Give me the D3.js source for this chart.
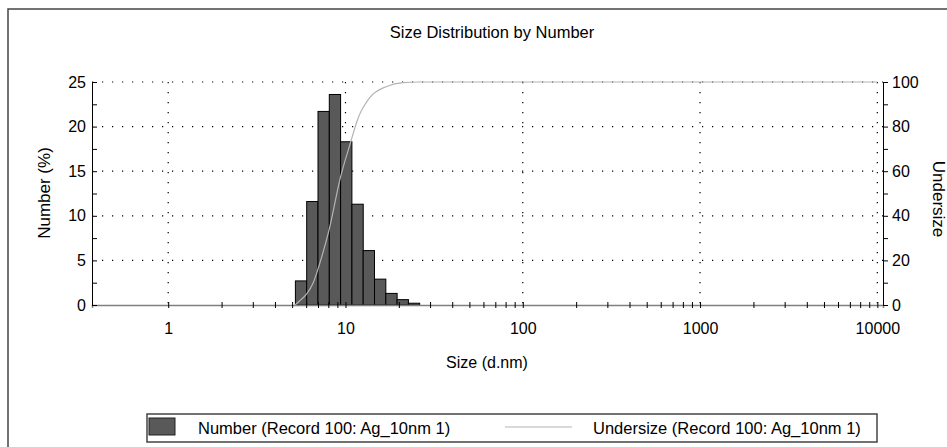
<!DOCTYPE html>
<html>
<head>
<meta charset="utf-8">
<script src="https://cdn.jsdelivr.net/npm/d3@7"></script>
<style>
  body { margin: 0; background: #fff; }
  svg { font-family: "Liberation Sans", Arial, sans-serif; }
</style>
</head>
<body>
<svg id="chart" width="947" height="447"></svg>
<script>
// Bin centres (d.nm) and number distribution (%)
const sizes = [5.615, 6.503, 7.531, 8.721, 10.10, 11.70, 13.54, 15.69, 18.17, 21.04, 24.36];
const numberPct = [2.7, 11.6, 21.7, 23.6, 18.3, 11.3, 6.1, 2.9, 1.3, 0.6, 0.2];

// Undersize (cumulative) curve
const undersizeSizes = [5.19, 5.54, 6.04, 6.58, 7.18, 8.10, 9.35, 10.6, 11.8, 13.7, 17.1, 21.1, 26.3, 40, 10000];
const undersizeVals = [0, 2, 5, 10, 19, 34, 57, 72, 84, 93, 98, 99.7, 100, 100, 100];

const xLabels = [1, 10, 100, 1000, 10000];
const leftTicks = [0, 5, 10, 15, 20, 25];
const rightTicks = [0, 20, 40, 60, 80, 100];

const svg = d3.select('#chart');
const binRatio = 1.1582;
const half = Math.sqrt(binRatio);

// scales
const x = d3.scaleLog().domain([0.4 / half, 10000 * half]).range([92, 883]);
const yL = d3.scaleLinear().domain([0, 25]).range([305, 82]);
const yR = d3.scaleLinear().domain([0, 100]).range([305, 82]);

// outer frame
svg.append('rect')
  .attr('x', 8).attr('y', 9).attr('width', 960).attr('height', 460)
  .attr('fill', 'none').attr('stroke', '#444').attr('stroke-width', 1.5);

// title
svg.append('text')
  .attr('x', 492).attr('y', 38)
  .attr('text-anchor', 'middle')
  .style('font-size', '16.5px')
  .text('Size Distribution by Number');

// gridlines
const grid = svg.append('g').attr('stroke', '#000').attr('stroke-width', 1.2)
  .attr('stroke-dasharray', '1.2,8.8');
grid.selectAll('.h').data(leftTicks.slice(1)).enter().append('line')
  .attr('x1', x.range()[0]).attr('x2', x.range()[1])
  .attr('y1', d => yL(d)).attr('y2', d => yL(d));
grid.selectAll('.v').data(xLabels).enter().append('line')
  .attr('x1', d => x(d)).attr('x2', d => x(d))
  .attr('y1', yL(25)).attr('y2', yL(0));

// bars
svg.append('g').selectAll('rect')
  .data(sizes.map((s, i) => ({ s: s, v: numberPct[i] })))
  .enter().append('rect')
  .attr('x', d => x(d.s / half))
  .attr('width', d => x(d.s * half) - x(d.s / half))
  .attr('y', d => yL(d.v))
  .attr('height', d => yL(0) - yL(d.v))
  .attr('fill', '#595959')
  .attr('stroke', '#000')
  .attr('stroke-width', 1);

// undersize line
const line = d3.line()
  .x(d => x(d[0]))
  .y(d => yR(d[1]))
  .curve(d3.curveMonotoneX);
svg.append('path')
  .datum(undersizeSizes.map((s, i) => [s, undersizeVals[i]]))
  .attr('d', line)
  .attr('fill', 'none')
  .attr('stroke', '#b4b4b4')
  .attr('stroke-width', 1.2);

// x axis
const xTickVals = [];
[1, 10, 100, 1000].forEach(p => d3.range(1, 10).forEach(k => xTickVals.push(k * p)));
xTickVals.push(10000);
const xAxis = svg.append('g')
  .attr('transform', `translate(0,${yL(0)})`)
  .call(d3.axisBottom(x).tickValues(xTickVals).tickSize(3)
    .tickFormat(d => xLabels.includes(d) ? d : ''));
xAxis.select('.domain').attr('stroke', '#808080').attr('stroke-width', 1.5);
xAxis.selectAll('.tick line').attr('y1', -3).attr('y2', 3).attr('stroke', '#000');
xAxis.selectAll('.tick text').attr('y', 18).style('font-size', '16px').attr('fill', '#000');

// left axis
const leftAxis = svg.append('g')
  .attr('transform', `translate(${x.range()[0]},0)`)
  .call(d3.axisLeft(yL).tickValues(d3.range(0, 25.1, 2.5)).tickSize(-5).tickPadding(6)
    .tickFormat(d => leftTicks.includes(d) ? d : ''));
leftAxis.select('.domain').attr('stroke', '#000');
leftAxis.selectAll('.tick text').style('font-size', '16px').attr('fill', '#000');

// right axis
const rightAxis = svg.append('g')
  .attr('transform', `translate(${x.range()[1]},0)`)
  .call(d3.axisRight(yR).tickValues(d3.range(0, 101, 10)).tickSize(5).tickPadding(4)
    .tickFormat(d => rightTicks.includes(d) ? d : ''));
rightAxis.select('.domain').attr('stroke', '#000');
rightAxis.selectAll('.tick text').style('font-size', '16px').attr('fill', '#000');

// axis titles
svg.append('text')
  .attr('transform', 'translate(50,193) rotate(-90)')
  .attr('text-anchor', 'middle')
  .style('font-size', '17px')
  .text('Number (%)');
svg.append('text')
  .attr('transform', 'translate(933,199) rotate(90)')
  .attr('text-anchor', 'middle')
  .style('font-size', '17px')
  .text('Undersize');
svg.append('text')
  .attr('x', 487).attr('y', 368)
  .attr('text-anchor', 'middle')
  .style('font-size', '16px')
  .text('Size (d.nm)');

// legend
const legend = svg.append('g');
legend.append('rect')
  .attr('x', 147).attr('y', 414).attr('width', 730).attr('height', 28)
  .attr('fill', '#fff').attr('stroke', '#444').attr('stroke-width', 1.5);
legend.append('rect')
  .attr('x', 149).attr('y', 418).attr('width', 26).attr('height', 17)
  .attr('fill', '#595959').attr('stroke', '#222');
legend.append('text')
  .attr('x', 198).attr('y', 434)
  .style('font-size', '16.5px')
  .text('Number (Record 100: Ag_10nm 1)');
legend.append('line')
  .attr('x1', 505).attr('x2', 572).attr('y1', 427).attr('y2', 427)
  .attr('stroke', '#b4b4b4').attr('stroke-width', 1.2);
legend.append('text')
  .attr('x', 593).attr('y', 434)
  .style('font-size', '16.5px')
  .text('Undersize (Record 100: Ag_10nm 1)');
</script>
</body>
</html>
